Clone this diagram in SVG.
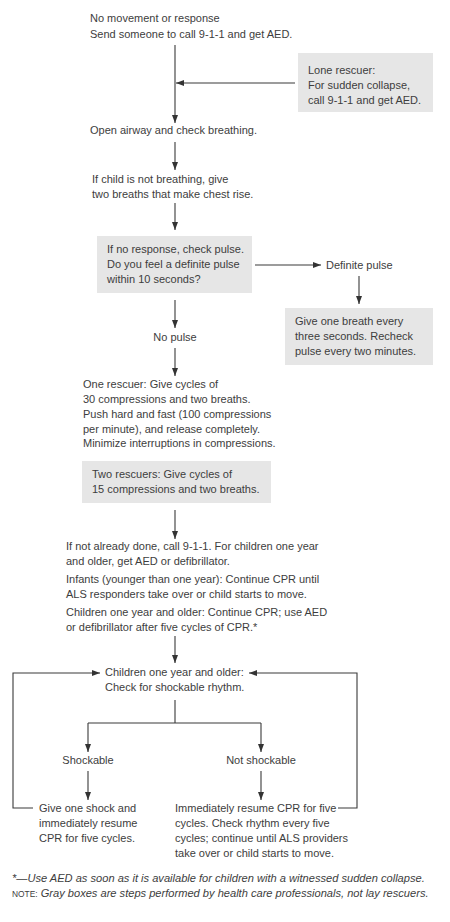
<svg xmlns="http://www.w3.org/2000/svg" width="450" height="922" viewBox="0 0 450 922">
<defs>
<marker id="arr" markerUnits="userSpaceOnUse" markerWidth="8" markerHeight="6" refX="8" refY="3" orient="auto">
<path d="M0,0 L8,3 L0,6 z" fill="#333"/>
</marker>
<style>
text{font-family:"Liberation Sans",Arial,sans-serif;font-size:11px;fill:#3d3d3d}
.box{fill:#e6e6e6}
.c{stroke:#3a3a3a;stroke-width:1.1;fill:none}
.a{marker-end:url(#arr)}
.it{font-style:italic;font-size:11.1px}
.sc{font-size:8.4px}
</style>
</defs>
<rect width="450" height="922" fill="#fff"/>
<g id="n1"><text x="90" y="22">No movement or response</text><text x="90" y="38">Send someone to call 9-1-1 and get AED.</text></g>
<g id="n2"><rect class="box" x="298" y="53" width="135" height="59"/><text x="308" y="74">Lone rescuer:</text><text x="308" y="89">For sudden collapse,</text><text x="308" y="104">call 9-1-1 and get AED.</text></g>
<g id="n3"><text x="90" y="134">Open airway and check breathing.</text></g>
<g id="n4"><text x="92" y="183">If child is not breathing, give</text><text x="92" y="198">two breaths that make chest rise.</text></g>
<g id="n5"><rect class="box" x="97" y="236" width="155" height="57"/><text x="107" y="253">If no response, check pulse.</text><text x="107" y="268">Do you feel a definite pulse</text><text x="107" y="283">within 10 seconds?</text></g>
<g id="n6"><text x="326" y="269">Definite pulse</text></g>
<g id="n7"><rect class="box" x="285" y="308" width="148" height="57"/><text x="295" y="325">Give one breath every</text><text x="295" y="340">three seconds. Recheck</text><text x="295" y="355">pulse every two minutes.</text></g>
<g id="n8"><text x="175" y="341" text-anchor="middle">No pulse</text></g>
<g id="n9"><text x="83" y="388">One rescuer: Give cycles of</text><text x="83" y="403">30 compressions and two breaths.</text><text x="83" y="418">Push hard and fast (100 compressions</text><text x="83" y="433">per minute), and release completely.</text><text x="83" y="447">Minimize interruptions in compressions.</text></g>
<g id="n10"><rect class="box" x="82" y="461" width="189" height="42"/><text x="92" y="478">Two rescuers: Give cycles of</text><text x="92" y="493">15 compressions and two breaths.</text></g>
<g id="n11"><text x="66" y="550">If not already done, call 9-1-1. For children one year</text><text x="66" y="565">and older, get AED or defibrillator.</text><text x="66" y="583">Infants (younger than one year): Continue CPR until</text><text x="66" y="598">ALS responders take over or child starts to move.</text><text x="66" y="616">Children one year and older: Continue CPR; use AED</text><text x="66" y="631">or defibrillator after five cycles of CPR.*</text></g>
<g id="n12"><text x="105" y="676">Children one year and older:</text><text x="105" y="691">Check for shockable rhythm.</text></g>
<g id="n13"><text x="88" y="764" text-anchor="middle">Shockable</text></g>
<g id="n14"><text x="261" y="764" text-anchor="middle">Not shockable</text></g>
<g id="n15"><text x="39" y="812">Give one shock and</text><text x="39" y="827">immediately resume</text><text x="39" y="842">CPR for five cycles.</text></g>
<g id="n16"><text x="175" y="812">Immediately resume CPR for five</text><text x="175" y="827">cycles. Check rhythm every five</text><text x="175" y="842">cycles; continue until ALS providers</text><text x="175" y="857">take over or child starts to move.</text></g>
<g id="notes"><text class="it" x="12" y="882">*—Use AED as soon as it is available for children with a witnessed sudden collapse.</text><text x="12" y="897" class="it"><tspan class="sc" font-style="normal">NOTE:</tspan> Gray boxes are steps performed by health care professionals, not lay rescuers.</text></g>
<g id="connectors">
<path class="c a" d="M175,45 V123"/>
<path class="c a" d="M295,83 H176"/>
<path class="c a" d="M175,142 V170"/>
<path class="c a" d="M175,203 V230"/>
<path class="c a" d="M255,265 H321"/>
<path class="c a" d="M359,276 V304"/>
<path class="c a" d="M175,300 V328"/>
<path class="c a" d="M175,348 V376"/>
<path class="c a" d="M175,510 V539"/>
<path class="c a" d="M175,636 V663"/>
<path class="c" d="M175,700 V723 M88,723 H261"/>
<path class="c a" d="M88,723 V752"/>
<path class="c a" d="M261,723 V752"/>
<path class="c a" d="M88,771 V800"/>
<path class="c a" d="M261,771 V800"/>
<path class="c a" d="M33,808 H13 V673 H100"/>
<path class="c a" d="M338,808 H357 V673 H249"/>
</g>
</svg>
